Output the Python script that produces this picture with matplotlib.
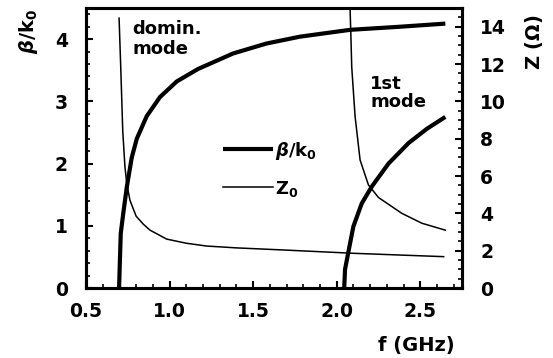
import matplotlib
matplotlib.use("Agg")
import matplotlib.pyplot as plt
from matplotlib.ticker import MultipleLocator, FormatStrFormatter

plt.rcParams["font.family"] = "DejaVu Sans"
plt.rcParams["font.weight"] = "bold"
plt.rcParams["mathtext.fontset"] = "dejavusans"

# dominant mode
f_dom_beta = [0.698, 0.703, 0.708, 0.723, 0.744, 0.774, 0.804, 0.863, 0.943, 1.043,
              1.17, 1.38, 1.58, 1.78, 2.08, 2.38, 2.65]
beta_dom = [0.0, 0.45, 0.88, 1.2, 1.62, 2.1, 2.4, 2.76, 3.07, 3.32,
            3.52, 3.77, 3.93, 4.04, 4.15, 4.20, 4.25]
f_dom_z = [0.698, 0.708, 0.72, 0.733, 0.744, 0.763, 0.80, 0.843, 0.883, 0.983,
           1.10, 1.22, 1.40, 1.70, 2.10, 2.64]
z_dom = [14.46, 11.8, 8.4, 6.5, 5.6, 4.7, 3.85, 3.42, 3.1, 2.62,
         2.4, 2.25, 2.15, 2.03, 1.86, 1.68]

# first higher mode
f_1st_beta = [2.045, 2.05, 2.07, 2.10, 2.15, 2.21, 2.31, 2.43, 2.54, 2.65]
beta_1st = [0.0, 0.3, 0.58, 0.99, 1.36, 1.63, 2.0, 2.33, 2.56, 2.75]
f_1st_z = [2.08, 2.085, 2.09, 2.11, 2.14, 2.19, 2.25, 2.39, 2.51, 2.65]
z_1st = [15.0, 13.5, 11.85, 9.2, 6.86, 5.52, 4.85, 4.0, 3.47, 3.1]

fig = plt.figure(figsize=(5.53, 3.58), dpi=100)
ax = fig.add_axes([0.1555, 0.1955, 0.68, 0.782])
ax2 = ax.twinx()

l_beta, = ax.plot(f_dom_beta, beta_dom, color="black", lw=3.0, solid_capstyle="butt")
ax.plot(f_1st_beta, beta_1st, color="black", lw=3.0, solid_capstyle="butt")
l_z, = ax2.plot(f_dom_z, z_dom, color="black", lw=1.1)
ax2.plot(f_1st_z, z_1st, color="black", lw=1.1)

ax.set_xlim(0.5, 2.75)
ax.set_ylim(0, 4.5)
ax2.set_ylim(0, 15)

ax.xaxis.set_major_locator(MultipleLocator(0.5))
ax.xaxis.set_minor_locator(MultipleLocator(0.1))
ax.xaxis.set_major_formatter(FormatStrFormatter("%.1f"))
ax.yaxis.set_major_locator(MultipleLocator(1))
ax.yaxis.set_minor_locator(MultipleLocator(0.2))
ax2.yaxis.set_major_locator(MultipleLocator(2))
ax2.yaxis.set_minor_locator(MultipleLocator(0.5))

for a in (ax, ax2):
    for s in a.spines.values():
        s.set_linewidth(2.2)
    a.tick_params(which="major", length=5, width=1.5)
    a.tick_params(which="minor", length=3, width=1.2)
ax.tick_params(which="both", direction="in", top=False, right=False, labelsize=13.5)
ax.tick_params(axis="x", pad=10)
ax.tick_params(axis="y", pad=13)
ax2.tick_params(which="both", direction="in", labelsize=13.5, pad=13)

ax.text(0.777, 4.30, "domin.\nmode", fontsize=13, va="top", ha="left", linespacing=1.1)
ax.text(2.20, 3.42, "1st\nmode", fontsize=13, va="top", ha="left", linespacing=0.95)

ax2.legend([l_beta, l_z], [r"$\beta\mathbf{/k_0}$", r"$\mathbf{Z_0}$"],
           loc="upper left", bbox_to_anchor=(0.364, 0.53), frameon=False,
           borderpad=0, borderaxespad=0, fontsize=13,
           handlelength=2.8, handletextpad=0.1, labelspacing=0.95)

fig.text(28 / 553, 1 - 31 / 358, r"$\beta\mathbf{/k_0}$", rotation=90,
         ha="center", va="center", fontsize=14)
fig.text(534 / 553, 1 - 42 / 358, r"$\mathbf{Z}\ (\Omega)$", rotation=90,
         ha="center", va="center", fontsize=14)
fig.text(416 / 553, 1 - 345 / 358, "f (GHz)", ha="center", va="center", fontsize=14)

fig.savefig("out.png", dpi=100)
